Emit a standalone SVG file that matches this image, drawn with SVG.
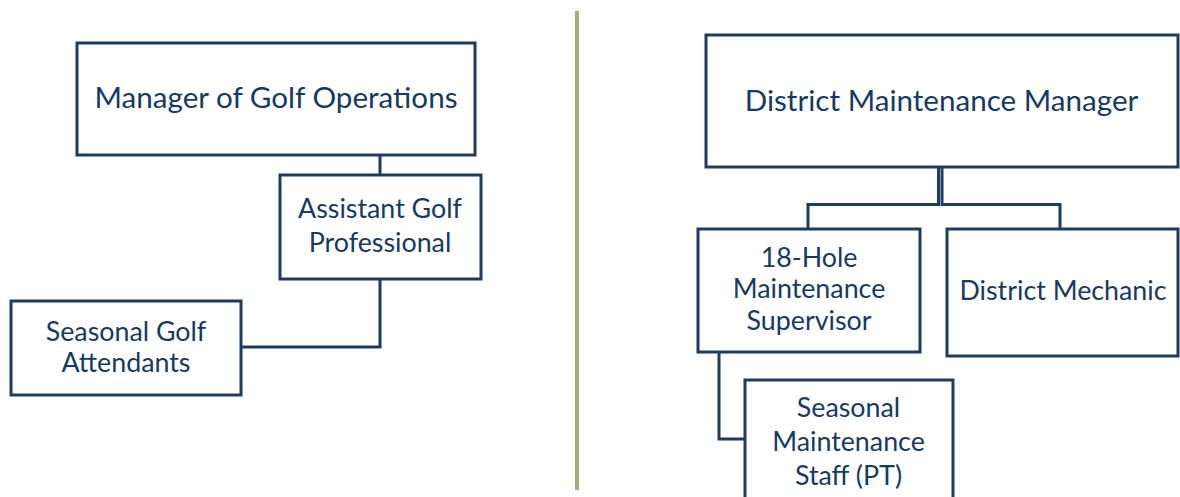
<svg xmlns="http://www.w3.org/2000/svg" width="1180" height="497" viewBox="0 0 1180 497">
  <style>
    .box { fill: #ffffff; stroke: #1d3c60; stroke-width: 3; }
    .link { fill: none; stroke: #1d3c60; stroke-width: 3; }
    .lbl { font-family: Lato, "Open Sans", sans-serif; fill: #163a63; text-anchor: middle; }
    .big { font-size: 29.6px; }
    .mid { font-size: 26.8px; }
  </style>
  <rect width="1180" height="497" fill="#ffffff"/>

  <!-- divider between the two charts -->
  <line x1="577" y1="11" x2="577" y2="490" stroke="#9bb07b" stroke-width="4"/>

  <g id="connectors">
    <line class="link" x1="380" y1="155" x2="380" y2="175"/>
    <path class="link" d="M380,279 V347 H241"/>
    <path class="link" stroke-width="2.5" d="M938.5,167 V204.5 H808 V229"/>
    <path class="link" stroke-width="2.5" d="M942,167 V204.5 H1060 V229"/>
    <path class="link" d="M719,352 V439 H745"/>
  </g>

  <g id="manager-golf-ops">
    <rect class="box" x="77" y="43" width="398" height="112"/>
    <text class="lbl big" x="276" y="108">Manager of Golf Operations</text>
  </g>

  <g id="assistant-golf-pro">
    <rect class="box" x="280" y="175" width="201" height="104"/>
    <text class="lbl mid" x="380" y="218">Assistant Golf</text>
    <text class="lbl mid" x="380" y="252">Professional</text>
  </g>

  <g id="seasonal-golf-attendants">
    <rect class="box" x="11" y="301" width="230" height="94"/>
    <text class="lbl mid" x="126" y="341">Seasonal Golf</text>
    <text class="lbl mid" x="126" y="372">Attendants</text>
  </g>

  <g id="district-maintenance-manager">
    <rect class="box" x="706" y="35" width="472" height="132"/>
    <text class="lbl big" x="941.5" y="111">District Maintenance Manager</text>
  </g>

  <g id="maintenance-supervisor">
    <rect class="box" x="698" y="229" width="222" height="123"/>
    <text class="lbl mid" x="809" y="267">18-Hole</text>
    <text class="lbl mid" x="809" y="298">Maintenance</text>
    <text class="lbl mid" x="809" y="330">Supervisor</text>
  </g>

  <g id="district-mechanic">
    <rect class="box" x="947" y="229" width="231" height="127"/>
    <text class="lbl mid" x="1063" y="300">District Mechanic</text>
  </g>

  <g id="seasonal-maintenance-staff">
    <rect class="box" x="745" y="380" width="208" height="130"/>
    <text class="lbl mid" x="848.5" y="417">Seasonal</text>
    <text class="lbl mid" x="848.5" y="451">Maintenance</text>
    <text class="lbl mid" x="848.5" y="485">Staff (PT)</text>
  </g>
</svg>
